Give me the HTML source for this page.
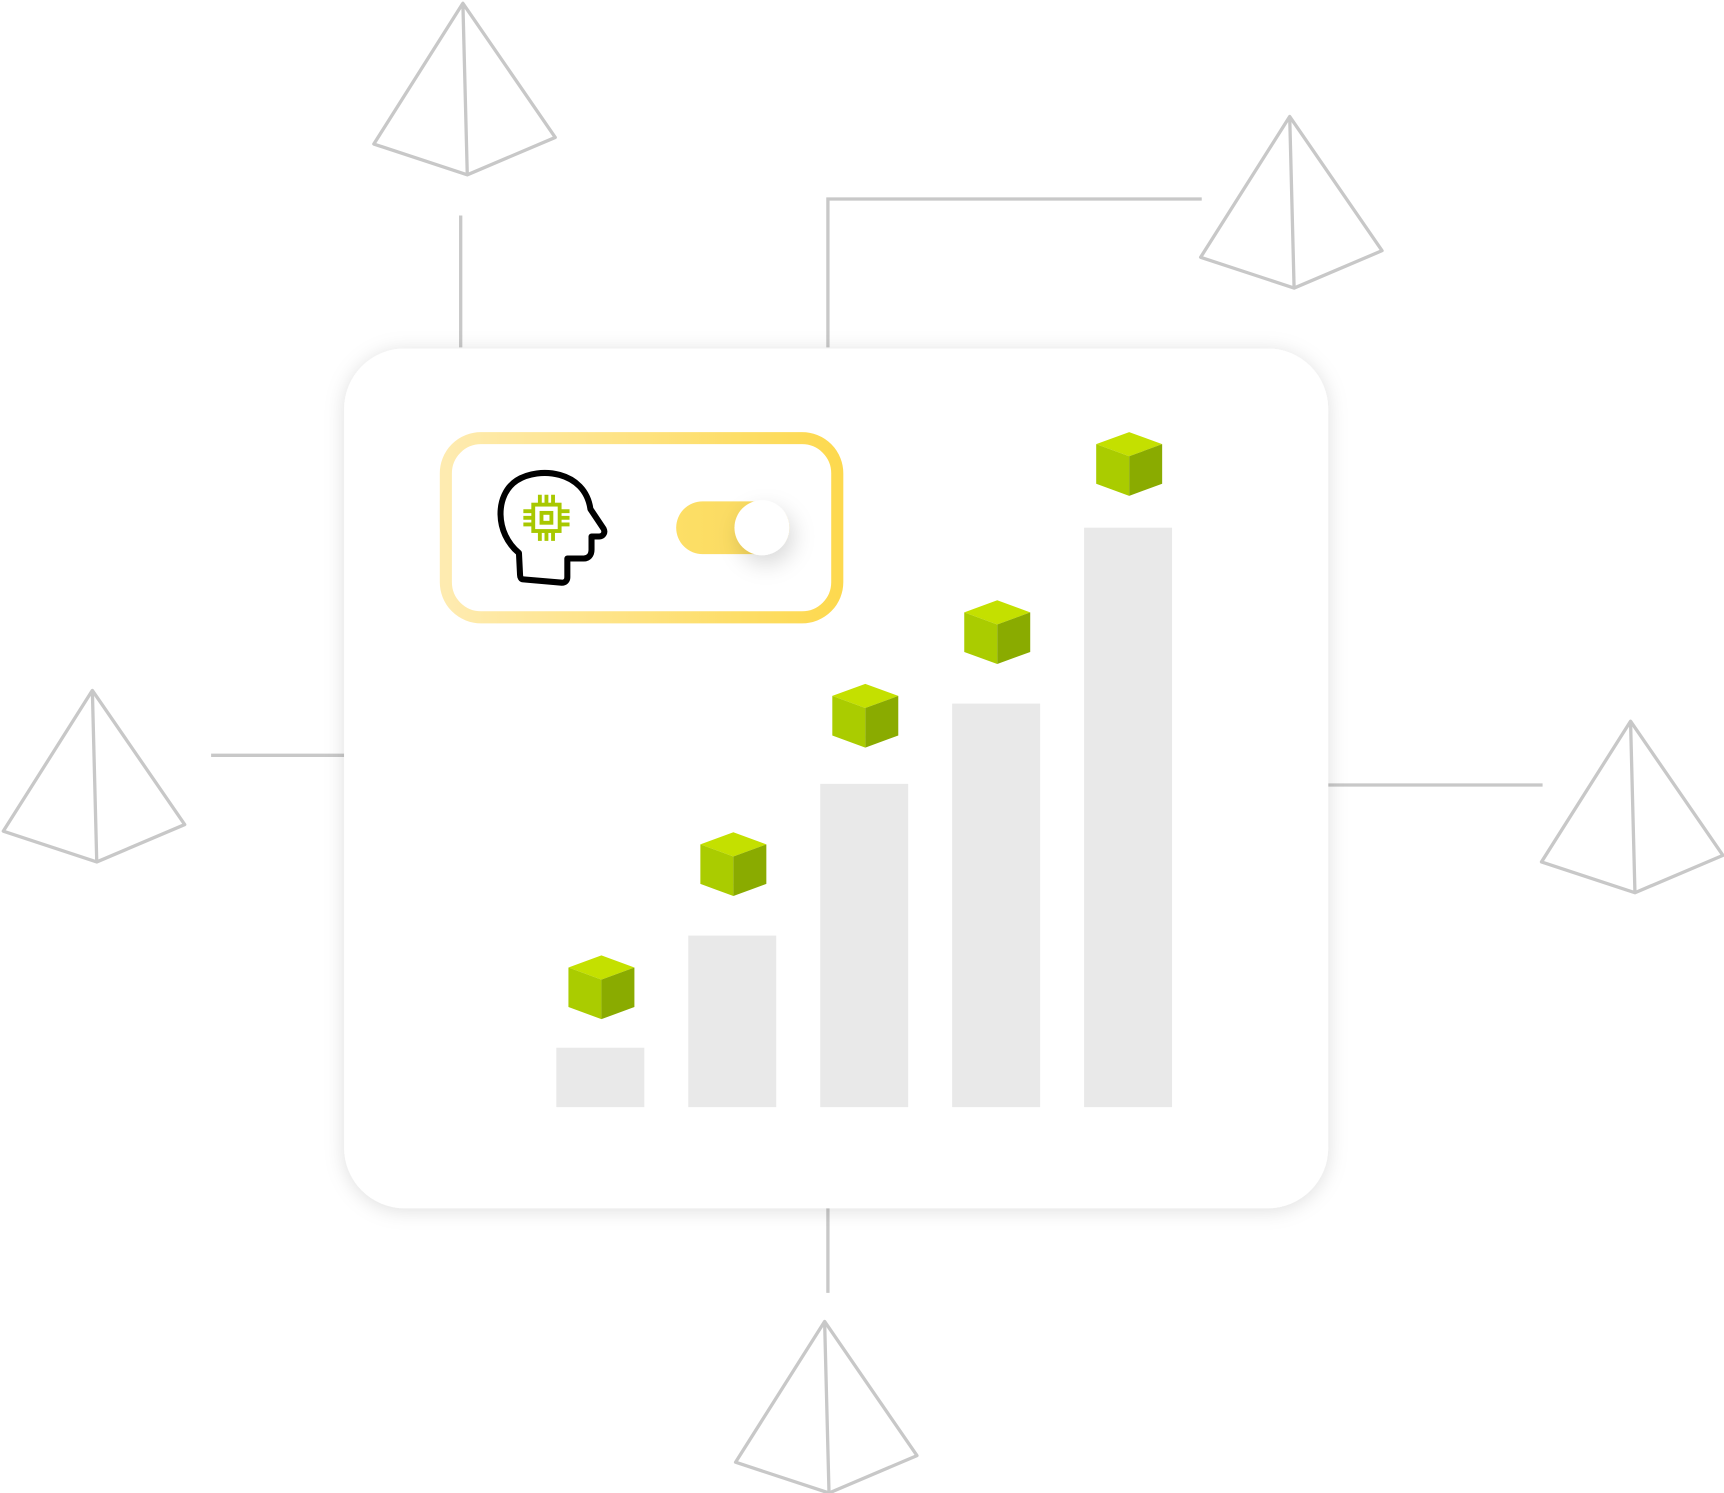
<!DOCTYPE html>
<html><head><meta charset="utf-8"><style>
html,body{margin:0;padding:0;background:#fff;}
svg{display:block;}
</style></head><body>
<svg width="1724" height="1493" viewBox="0 0 1568 1358" preserveAspectRatio="none" xmlns="http://www.w3.org/2000/svg">
<defs>
<filter id="sh" x="-10%" y="-10%" width="120%" height="120%"><feDropShadow dx="0" dy="2" stdDeviation="9" flood-color="#000" flood-opacity="0.13"/></filter>
<filter id="ks" x="-80%" y="-80%" width="260%" height="260%"><feDropShadow dx="4" dy="8" stdDeviation="10" flood-color="#000" flood-opacity="0.15"/></filter>
<linearGradient id="yg" x1="0" x2="1" y1="0" y2="0"><stop offset="0" stop-color="#feebb0"/><stop offset="1" stop-color="#fdd94f"/></linearGradient>
<linearGradient id="tg" x1="0" x2="1"><stop offset="0" stop-color="#fddf66"/><stop offset="1" stop-color="#f8d860"/></linearGradient>
<g id="pyr" fill="none" stroke="#c8c8c8" stroke-width="3" stroke-linejoin="round">
<path d="M0,0 L-81,128 L4,156 L84,122 Z M0,0 L4,156"/>
</g>
<g id="cube">
<path d="M-30,11 L0,0 L30,11 L0,22 Z" fill="#c4e000"/>
<path d="M-30,11 L0,22 L0,58 L-30,47 Z" fill="#aacc00"/>
<path d="M30,11 L0,22 L0,58 L30,47 Z" fill="#8aab00"/>
</g>
</defs>
<g fill="none" stroke="#c8c8c8" stroke-width="3">
<path d="M419,196 V316"/>
<path d="M753,316 V181 H1093"/>
<path d="M192,687 H313"/>
<path d="M1208,714 H1403"/>
<path d="M753,1099 V1176"/>
</g>
<use href="#pyr" x="421" y="3"/>
<use href="#pyr" x="1173" y="106"/>
<use href="#pyr" x="84" y="628"/>
<use href="#pyr" x="1483" y="656"/>
<use href="#pyr" x="750" y="1202"/>
<rect x="313" y="317" width="895" height="782" rx="55" fill="#fff" filter="url(#sh)"/>
<rect x="405.5" y="398.5" width="356" height="163" rx="32" fill="#fff" stroke="url(#yg)" stroke-width="11"/>
<rect x="615" y="456" width="103" height="48" rx="24" fill="url(#tg)"/>
<circle cx="693" cy="480" r="25" fill="#fff" filter="url(#ks)"/>
<path d="M472,503 C450,485 450,450 470,437 C490,424 532,428 537,463 L549,481 C551,485 548,488 545,488 L538,488 L538,500 C538,505 535,508 531,508 L516,508 L516,525 C516,528 514,530 511,530 L476,527 C474,527 473,525 473,523 Z" fill="none" stroke="#000" stroke-width="5.5" stroke-linejoin="round"/>
<g fill="none" stroke="#a8c800" stroke-width="3.5">
<rect x="485" y="459" width="24" height="24"/>
<rect x="492.5" y="466.5" width="9" height="9"/>
<path d="M491,450 v9 M497,450 v9 M503,450 v9 M491,483 v9 M497,483 v9 M503,483 v9 M476,465 h9 M476,471 h9 M476,477 h9 M509,465 h9 M509,471 h9 M509,477 h9"/>
</g>
<g fill="#e9e9e9">
<rect x="506" y="953" width="80" height="54"/>
<rect x="626" y="851" width="80" height="156"/>
<rect x="746" y="713" width="80" height="294"/>
<rect x="866" y="640" width="80" height="367"/>
<rect x="986" y="480" width="80" height="527"/>
</g>
<use href="#cube" x="547" y="869"/>
<use href="#cube" x="667" y="757"/>
<use href="#cube" x="787" y="622"/>
<use href="#cube" x="907" y="546"/>
<use href="#cube" x="1027" y="393"/>
</svg>
</body></html>
